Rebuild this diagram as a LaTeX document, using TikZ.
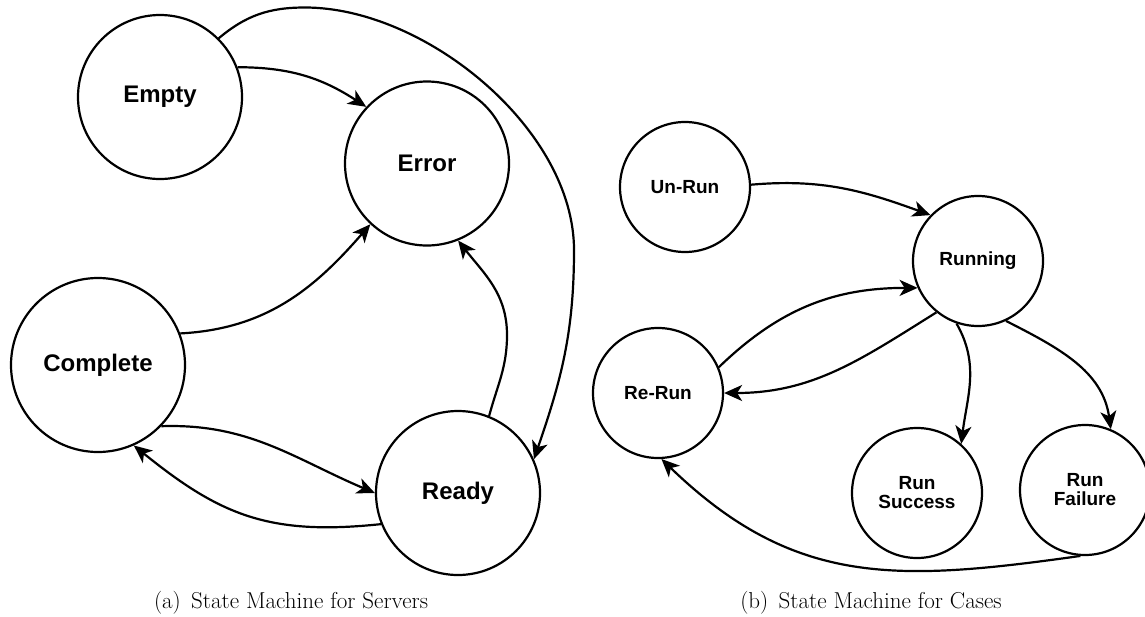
\documentclass[tikz,border=0pt]{standalone}
\usepackage{fontspec}
\newfontfamily\labfont{Liberation Sans}
\usetikzlibrary{arrows.meta}
\begin{document}
\begin{tikzpicture}[x=1pt,y=1pt,
  state/.style={circle, draw=black, line width=2.2pt, inner sep=0pt, align=center,
    font={\fontsize{24}{24}\selectfont\labfont\bfseries}},
  bigstate/.style={state, minimum size=164pt},
  smallstate/.style={state, minimum size=130pt,
    font={\fontsize{19}{19}\selectfont\labfont\bfseries}},
  edge/.style={line width=2.2pt, -{Stealth[length=18pt,width=16pt,inset=5pt]}},
  captext/.style={anchor=base, font={\fontsize{23}{25}\selectfont}}
]
\useasboundingbox (0,0) rectangle (1145,-616);

% ---------- (a) servers ----------
\node[bigstate] (E) at (160,-97) {Empty};
\node[bigstate] (R) at (427,-163.5) {Error};
\node[state, minimum size=174pt] (C) at (98,-365) {Complete};
\node[bigstate] (Y) at (458,-493) {Ready};

\coordinate (top1) at (305,-7.5);
\coordinate (right1) at (574,-250);
\coordinate (bulge1) at (507,-335);

\draw[edge] (E.21) to[out=0, in=147] (R.137);
\draw[edge] (E.45) to[out=40, in=180] (top1) to[out=0, in=90, looseness=0.85] (right1) to[out=-90, in=71] (Y.24);
\draw[edge] (C.21) to[out=3, in=229] (R.227);
\draw[edge] (Y.68) to[out=75, in=-90] (bulge1) to[out=90, in=308] (R.292);
\draw[edge] (C.-44) to[out=2, in=157] (Y.180);
\draw[edge] (Y.202) to[out=186, in=321, looseness=1.1] (C.294);

\node[captext] (capa) at (291,-608) {(a)\hspace{0.45em}State Machine for Servers};

% ---------- (b) cases ----------
\node[smallstate] (U) at (685,-187) {Un-Run};
\node[smallstate] (N) at (978,-261) {Running};
\node[smallstate] (RR) at (658,-393) {Re-Run};
\node[smallstate] (S) at (917,-493) {Run\\Success};
\node[smallstate] (F) at (1085,-490) {Run\\Failure};

\draw[edge] (U.2) to[out=5, in=160] (N.136);
\draw[edge] (RR.23) to[out=44, in=180] (N.204);
\draw[edge] (N.231) to[out=212, in=0] (RR.0);
\draw[edge] (N.251) to[out=-60, in=83] (S.48);
\draw[edge] (N.295) to[out=-27, in=98] (F.67);
\draw[edge] (F.266) to[out=188, in=316, looseness=1.1] (RR.273);

\node[captext] (capb) at (871,-608) {(b)\hspace{0.45em}State Machine for Cases};
\end{tikzpicture}
\end{document}
